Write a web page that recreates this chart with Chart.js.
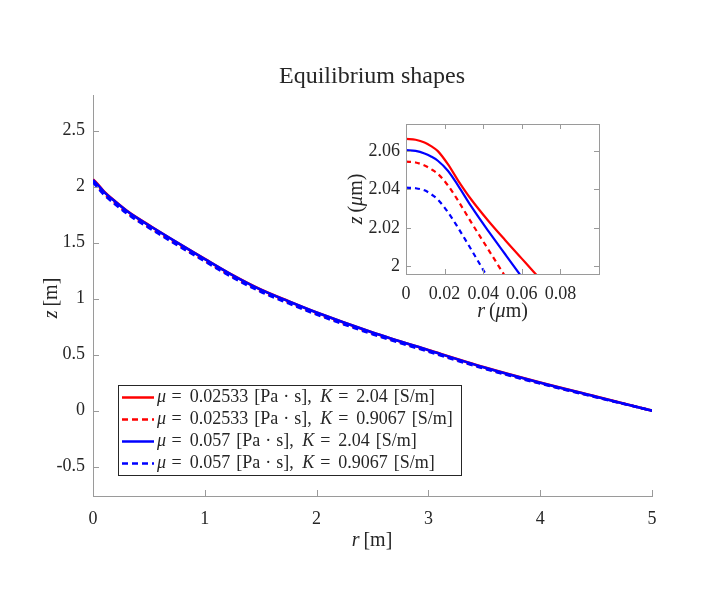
<!DOCTYPE html>
<html>
<head>
<meta charset="utf-8">
<script src="https://cdn.jsdelivr.net/npm/chart.js@4.4.1/dist/chart.umd.min.js"></script>
<style>
  html, body { margin: 0; padding: 0; background: #fff; }
  #wrap { position: relative; width: 720px; height: 613px; }
  #mainChart { position: absolute; left: 0; top: 0; }
  #insetChart { position: absolute; left: 330px; top: 100px; }
</style>
</head>
<body>
<div id="wrap">
  <canvas id="mainChart" width="720" height="613"></canvas>
  <canvas id="insetChart" width="290" height="230"></canvas>
</div>
<script>
const FONT = "'Liberation Serif', 'Times New Roman', serif";
const INK = "#262626";
const AXIS = "#9a9a9a";

// main plot: radius r [m] vs height z [m]
const mainR = [0, 0.05, 0.1, 0.2, 0.3, 0.4, 0.5, 0.75, 1, 1.25, 1.5, 1.75, 2, 2.5, 3, 3.5, 4, 4.5, 5];
const zRedSolid  = [2.066, 2.014, 1.955, 1.868, 1.788, 1.719, 1.657, 1.503, 1.355, 1.210, 1.082, 0.977, 0.877, 0.699, 0.541, 0.387, 0.251, 0.126, 0];
const zRedDash   = [2.054, 1.998, 1.938, 1.852, 1.772, 1.703, 1.641, 1.488, 1.340, 1.196, 1.069, 0.965, 0.866, 0.689, 0.532, 0.379, 0.245, 0.122, 0];
const zBlueSolid = [2.060, 2.008, 1.952, 1.866, 1.786, 1.717, 1.655, 1.502, 1.354, 1.209, 1.081, 0.976, 0.876, 0.698, 0.540, 0.386, 0.250, 0.125, 0];
const zBlueDash  = [2.041, 1.982, 1.927, 1.842, 1.763, 1.694, 1.633, 1.480, 1.333, 1.189, 1.062, 0.958, 0.859, 0.683, 0.527, 0.375, 0.242, 0.120, 0];

const xTicks = [0, 1, 2, 3, 4, 5];
const yTicks = [-0.5, 0, 0.5, 1, 1.5, 2, 2.5];

// inset: zoom on the tip (r and z in um)
const inRedSolidR  = [0, 0.005, 0.0096, 0.013, 0.0165, 0.0217, 0.0270, 0.0339, 0.0426, 0.0513, 0.0600, 0.0661, 0.0700];
const inRedSolidZ  = [2.0663, 2.0658, 2.0644, 2.0625, 2.0599, 2.0531, 2.0446, 2.0346, 2.0237, 2.0137, 2.0040, 1.9972, 1.9928];
const inRedDashR   = [0, 0.005, 0.0096, 0.013, 0.0165, 0.0217, 0.0270, 0.0339, 0.0426, 0.0504, 0.0530];
const inRedDashZ   = [2.0544, 2.0540, 2.0524, 2.0505, 2.0481, 2.0421, 2.0341, 2.0227, 2.0088, 1.9963, 1.9921];
const inBlueSolidR = [0, 0.005, 0.0096, 0.013, 0.0165, 0.0217, 0.0270, 0.0339, 0.0426, 0.0513, 0.0589, 0.0620];
const inBlueSolidZ = [2.0604, 2.0600, 2.0587, 2.0571, 2.0549, 2.0497, 2.0420, 2.0310, 2.0184, 2.0064, 1.9959, 1.9916];
const inBlueDashR  = [0, 0.005, 0.0096, 0.013, 0.0165, 0.0217, 0.0270, 0.0322, 0.0409, 0.0430];
const inBlueDashZ  = [2.0409, 2.0406, 2.0395, 2.0375, 2.0347, 2.0282, 2.0200, 2.0114, 1.9966, 1.9930];

const inXTicks = [0, 0.02, 0.04, 0.06, 0.08];
const inYTicks = [2, 2.02, 2.04, 2.06];

// legend entries
const muVals = ["0.02533", "0.02533", "0.057", "0.057"];
const kVals = ["2.04", "0.9067", "2.04", "0.9067"];
const colors = ["#ff0000", "#ff0000", "#0000ff", "#0000ff"];
const dashed = [false, true, false, true];

function pts(xs, ys) {
  return xs.map((x, i) => ({ x: x, y: ys[i] }));
}

function makeSets(list, width, dash) {
  // blue dashed ends up on top, like the original plot order
  return list.map((d, i) => ({
    data: d,
    borderColor: colors[i],
    borderWidth: width,
    borderDash: dashed[i] ? dash : [],
    pointRadius: 0,
    cubicInterpolationMode: "monotone",
    fill: false,
    clip: 0,
    order: 3 - i,
  }));
}

// parts: [text, italic, extra gap after]
function drawRich(ctx, parts, x, y, size, align) {
  const fonts = parts.map(p => (p[1] ? "italic " : "") + size + "px " + FONT);
  let total = 0;
  const widths = parts.map((p, i) => {
    ctx.font = fonts[i];
    const w = ctx.measureText(p[0]).width + (p[2] || 0);
    total += w;
    return w;
  });
  let cx = align === "center" ? x - total / 2 : x;
  ctx.textAlign = "left";
  ctx.textBaseline = "middle";
  parts.forEach((p, i) => {
    ctx.font = fonts[i];
    ctx.fillText(p[0], cx, y);
    cx += widths[i];
  });
}

function drawInTicks(chart, len, mirror) {
  const { ctx, chartArea: a, scales } = chart;
  ctx.save();
  ctx.strokeStyle = AXIS;
  ctx.lineWidth = 1;
  ctx.beginPath();
  scales.x.ticks.forEach(t => {
    const px = Math.round(scales.x.getPixelForValue(t.value)) + 0.5;
    ctx.moveTo(px, a.bottom);
    ctx.lineTo(px, a.bottom - len);
    if (mirror) { ctx.moveTo(px, a.top); ctx.lineTo(px, a.top + len); }
  });
  scales.y.ticks.forEach(t => {
    const py = Math.round(scales.y.getPixelForValue(t.value)) + 0.5;
    ctx.moveTo(a.left, py);
    ctx.lineTo(a.left + len, py);
    if (mirror) { ctx.moveTo(a.right, py); ctx.lineTo(a.right - len, py); }
  });
  ctx.stroke();
  ctx.restore();
}

function axisOpts(min, max, tickList, size, pad, fitKey, fitVal) {
  return {
    type: "linear",
    min: min,
    max: max,
    grid: { display: false, drawTicks: false },
    border: { display: true, color: AXIS, width: 1 },
    ticks: {
      color: INK,
      font: { family: FONT, size: size },
      padding: pad,
      maxRotation: 0,
      autoSkip: false,
      callback: v => String(v),
    },
    afterBuildTicks: axis => { axis.ticks = tickList.map(v => ({ value: v })); },
    afterFit: s => { s[fitKey] = fitVal; },
  };
}

const mainDecor = {
  id: "mainDecor",
  afterDraw(chart) {
    const ctx = chart.ctx;
    drawInTicks(chart, 6, false);
    ctx.save();
    ctx.fillStyle = INK;
    ctx.font = "24px " + FONT;
    ctx.textAlign = "center";
    ctx.textBaseline = "middle";
    ctx.fillText("Equilibrium shapes", 372, 77);
    drawRich(ctx, [["r", true, 4], ["[m]", false]], 372, 541, 20, "center");
    ctx.translate(52, 298);
    ctx.rotate(-Math.PI / 2);
    drawRich(ctx, [["z", true, 4], ["[m]", false]], 0, 0, 20, "center");
    ctx.restore();

    // legend box
    ctx.save();
    const bx = 118.5, by = 385.5, bw = 343, bh = 90;
    ctx.fillStyle = "#fff";
    ctx.fillRect(bx, by, bw, bh);
    ctx.strokeStyle = INK;
    ctx.lineWidth = 1;
    ctx.strokeRect(bx, by, bw, bh);
    muVals.forEach((mu, i) => {
      const y = 397.5 + i * 22;
      ctx.strokeStyle = colors[i];
      ctx.lineWidth = 2.5;
      ctx.setLineDash(dashed[i] ? [6, 4] : []);
      ctx.beginPath();
      ctx.moveTo(122, y);
      ctx.lineTo(154, y);
      ctx.stroke();
      ctx.setLineDash([]);
      ctx.fillStyle = INK;
      drawRich(ctx, [
        ["μ", true, 5.5], ["=", false, 8], [mu, false, 6], ["[Pa", false, 5], ["·", false, 5],
        ["s],", false, 8.5], ["K", true, 6], ["=", false, 8], [kVals[i], false, 6], ["[S/m]", false],
      ], 157, y, 18, "left");
    });
    ctx.restore();
  },
};

const insetDecor = {
  id: "insetDecor",
  afterDraw(chart) {
    const ctx = chart.ctx;
    const a = chart.chartArea;
    drawInTicks(chart, 5, true);
    ctx.save();
    ctx.strokeStyle = AXIS;
    ctx.lineWidth = 1;
    ctx.strokeRect(Math.round(a.left) + 0.5, Math.round(a.top) + 0.5, Math.round(a.right - a.left), Math.round(a.bottom - a.top));
    ctx.fillStyle = INK;
    drawRich(ctx, [["r", true, 4], ["(", false], ["μ", true], ["m)", false]], (a.left + a.right) / 2, 212, 20, "center");
    ctx.translate(27, (a.top + a.bottom) / 2);
    ctx.rotate(-Math.PI / 2);
    drawRich(ctx, [["z", true, 4], ["(", false], ["μ", true], ["m)", false]], 0, 0, 20, "center");
    ctx.restore();
  },
};

new Chart(document.getElementById("mainChart"), {
  type: "line",
  data: {
    datasets: makeSets([
      pts(mainR, zRedSolid),
      pts(mainR, zRedDash),
      pts(mainR, zBlueSolid),
      pts(mainR, zBlueDash),
    ], 2.6, [6, 4]),
  },
  options: {
    responsive: false,
    animation: false,
    layout: { padding: { left: 0, top: 95, right: 68, bottom: 0 } },
    plugins: { legend: { display: false }, tooltip: { enabled: false } },
    scales: {
      x: axisOpts(0, 5, xTicks, 18, 12, "height", 117),
      y: axisOpts(-0.762, 2.819, yTicks, 18, 8, "width", 93),
    },
  },
  plugins: [mainDecor],
});

new Chart(document.getElementById("insetChart"), {
  type: "line",
  data: {
    datasets: makeSets([
      pts(inRedSolidR, inRedSolidZ),
      pts(inRedDashR, inRedDashZ),
      pts(inBlueSolidR, inBlueSolidZ),
      pts(inBlueDashR, inBlueDashZ),
    ], 2.2, [5, 4]),
  },
  options: {
    responsive: false,
    animation: false,
    layout: { padding: { left: 0, top: 24, right: 21, bottom: 0 } },
    plugins: { legend: { display: false }, tooltip: { enabled: false } },
    scales: {
      x: axisOpts(0, 0.1, inXTicks, 18, 9, "height", 56),
      y: axisOpts(1.996, 2.074, inYTicks, 18, 6, "width", 76),
    },
  },
  plugins: [insetDecor],
});
</script>
</body>
</html>
